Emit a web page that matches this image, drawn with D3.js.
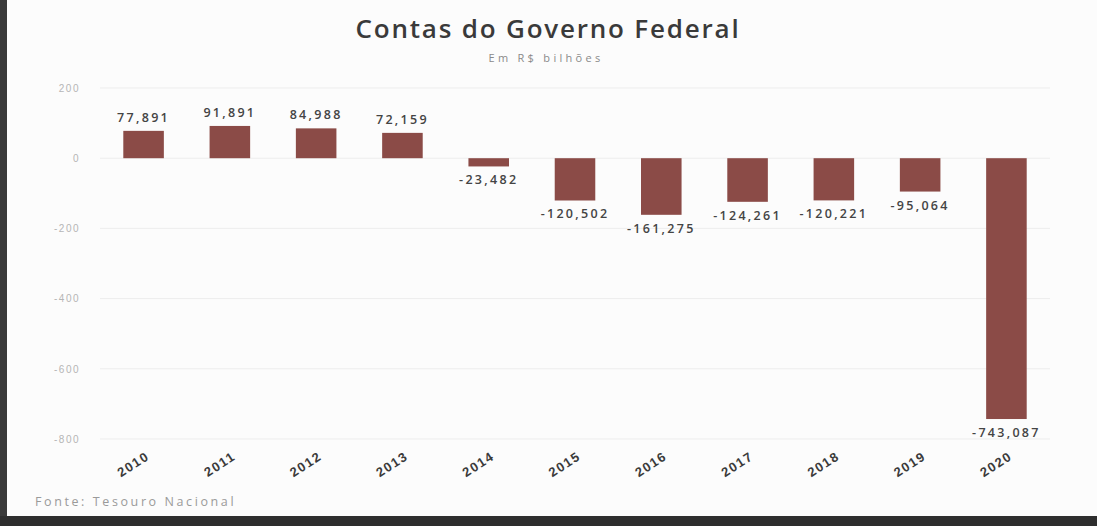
<!DOCTYPE html>
<html><head><meta charset="utf-8">
<script src="https://cdn.jsdelivr.net/npm/d3@7"></script>
<style>
html,body{margin:0;padding:0;background:#fff;}
svg{display:block;font-family:"Open Sans",sans-serif;}
</style></head>
<body><svg id="c" width="1097" height="526"></svg>
<script>
const years = ["2010","2011","2012","2013","2014","2015","2016","2017","2018","2019","2020"];
const values = [77.891, 91.891, 84.988, 72.159, -23.482, -120.502, -161.275, -124.261, -120.221, -95.064, -743.087];
const yTicks = [200, 0, -200, -400, -600, -800];
const title = "Contas do Governo Federal";
const subtitle = "Em R$ bilhões";
const source = "Fonte: Tesouro Nacional";

const svg = d3.select("#c");
const W = 1097, H = 526;
const m = {left: 100, right: 47, top: 88, bottom: 87};

// frame (photo edges)
svg.append("rect").attr("x",0).attr("y",0).attr("width",W).attr("height",H).attr("fill","#fcfcfc");
svg.append("rect").attr("x",0).attr("y",0).attr("width",7).attr("height",H).attr("fill","#3a3a3a");
svg.append("rect").attr("x",0).attr("y",516).attr("width",W).attr("height",10).attr("fill","#2e2e2e");

const x = d3.scaleBand().domain(years).range([m.left, W - m.right]).paddingInner(0.53).paddingOuter(0.27);
const y = d3.scaleLinear().domain([-800, 200]).range([H - m.bottom, m.top]);

// grid
svg.append("g").selectAll("line").data(yTicks).join("line")
  .attr("x1", m.left).attr("x2", W - m.right)
  .attr("y1", d => y(d)).attr("y2", d => y(d))
  .attr("stroke", "#ededed").attr("stroke-width", 1);

// y axis
const yAxis = d3.axisLeft(y).tickValues(yTicks).tickSize(0).tickPadding(0).tickFormat(d3.format("d"));
const ya = svg.append("g").attr("transform", `translate(80,0)`).call(yAxis);
ya.select(".domain").remove();
ya.selectAll("text").attr("fill", "#b5b5b5").attr("font-size", 10).attr("letter-spacing", 1.5).text(d => String(d));

// x axis
const xAxis = d3.axisBottom(x).tickSize(0).tickPadding(0);
const xa = svg.append("g").attr("transform", `translate(0,${y(-800) + 13})`).call(xAxis);
xa.select(".domain").remove();
xa.selectAll("text").attr("fill", "#3a3a3a").attr("font-size", 13).attr("font-weight", 600)
  .attr("letter-spacing", 1.5)
  .attr("text-anchor", "end").attr("dy", "0.7em").attr("x", 2).attr("y", 0)
  .attr("transform", "rotate(-33)");

// bars
svg.append("g").selectAll("rect").data(years).join("rect")
  .attr("x", d => x(d))
  .attr("width", x.bandwidth())
  .attr("y", (d, i) => y(Math.max(0, values[i])))
  .attr("height", (d, i) => Math.abs(y(values[i]) - y(0)))
  .attr("fill", "#8b4b47");

// value labels
const fmt = v => v.toFixed(3).replace(".", ",");
svg.append("g").selectAll("text").data(years).join("text")
  .attr("x", d => x(d) + x.bandwidth() / 2)
  .attr("y", (d, i) => values[i] >= 0 ? y(values[i]) - 9 : y(values[i]) + 18)
  .attr("text-anchor", "middle")
  .attr("font-size", 12.5).attr("font-weight", 600).attr("fill", "#444")
  .attr("letter-spacing", 2.3)
  .text((d, i) => fmt(values[i]));

// titles
svg.append("text").attr("x", 548).attr("y", 38).attr("text-anchor", "middle")
  .attr("font-size", 26).attr("font-weight", 600).attr("fill", "#3a3a3a").attr("letter-spacing", 1.8).text(title);
svg.append("text").attr("x", 546).attr("y", 62).attr("text-anchor", "middle")
  .attr("font-size", 11).attr("fill", "#8a8a8a").attr("letter-spacing", 3.3).text(subtitle);
svg.append("text").attr("x", 35).attr("y", 506)
  .attr("font-size", 12.5).attr("fill", "#9a9a9a").attr("letter-spacing", 2.6).text(source);
</script></body></html>
